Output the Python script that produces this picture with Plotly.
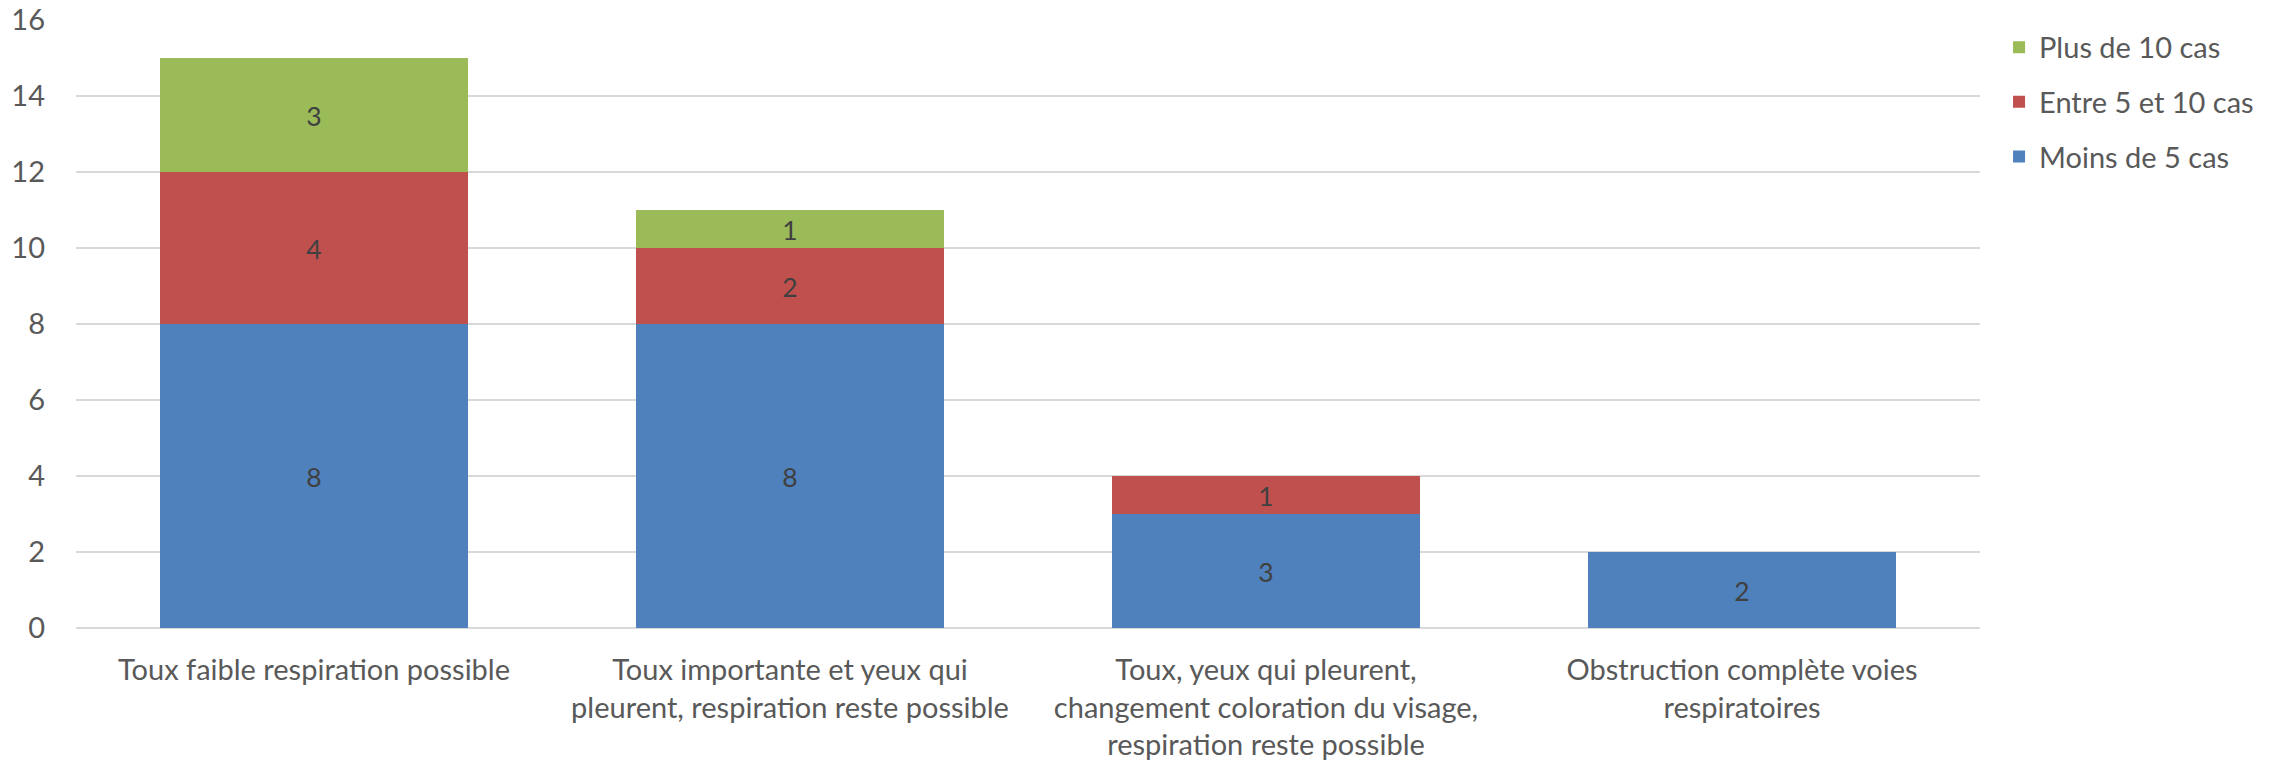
import plotly.graph_objects as go

categories = [
    "Toux faible respiration possible",
    "Toux importante et yeux qui<br>pleurent, respiration reste possible",
    "Toux, yeux qui pleurent,<br>changement coloration du visage,<br>respiration reste possible",
    "Obstruction complète voies<br>respiratoires",
]
moins_5 = [8, 8, 3, 2]
entre_5_10 = [4, 2, 1, None]
plus_10 = [3, 1, None, None]
series_names = ["Moins de 5 cas", "Entre 5 et 10 cas", "Plus de 10 cas"]
colors = ["#4F81BD", "#C0504D", "#9BBB59"]

FONT = "Lato"
FS = 29
fig = go.Figure()
for i, (name, vals, col) in enumerate(zip(series_names, [moins_5, entre_5_10, plus_10], colors)):
    fig.add_trace(go.Bar(
        x=categories, y=vals, name=name, marker=dict(color=col, line=dict(width=0)),
        text=[("" if v is None else str(v)) for v in vals],
        textposition="inside", insidetextanchor="middle", textangle=0,
        textfont=dict(family=FONT, size=FS, color="#404040"),
        legendgroup=f"g{i}", legendrank=1000 - i,
        width=0.645,
    ))

fig.update_layout(
    width=2274, height=762,
    barmode="stack",
    plot_bgcolor="white", paper_bgcolor="white",
    margin=dict(l=76, r=294, t=20, b=134),
    font=dict(family=FONT, size=FS, color="#595959"),
    legend=dict(x=1.01, y=0.997, xanchor="left", yanchor="top", traceorder="grouped",
                font=dict(family=FONT, size=FS, color="#595959"), tracegroupgap=14,
                itemwidth=30),
    uniformtext=dict(mode="show", minsize=10),
)
fig.update_yaxes(range=[0, 16], dtick=2, showgrid=True, gridcolor="#D9D9D9", gridwidth=1.5,
                 zeroline=True, zerolinecolor="#D9D9D9", zerolinewidth=2,
                 showline=False, ticks="", ticklabelstandoff=30, automargin=False,
                 tickfont=dict(family=FONT, size=FS, color="#595959"))
fig.update_xaxes(showgrid=False, showline=False, ticks="", ticklabelstandoff=22, automargin=False,
                 tickfont=dict(family=FONT, size=FS, color="#595959"))

fig.write_html("out.html")
